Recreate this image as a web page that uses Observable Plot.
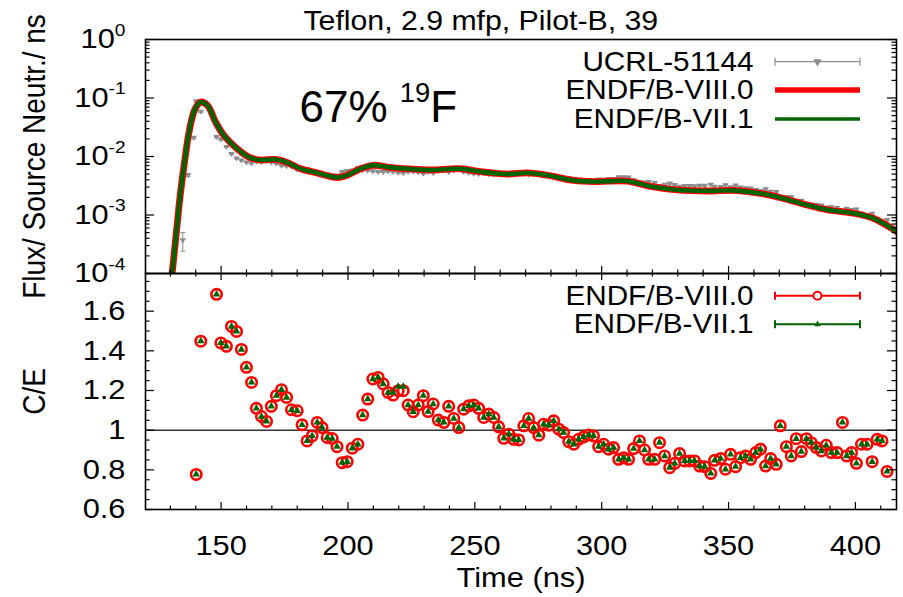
<!DOCTYPE html>
<html>
<head>
<meta charset="utf-8">
<script src="https://cdn.jsdelivr.net/npm/d3@7"></script>
<script src="https://cdn.jsdelivr.net/npm/@observablehq/plot@0.6"></script>
<style>
  body { margin: 0; background: #fff; }
  #chart { position: relative; width: 903px; height: 597px; background: #fff; }
  #chart svg { position: absolute; left: 0; }
</style>
</head>
<body>
<div id="chart"></div>
<script>
// ---- Calculated flux (ENDF/B-VIII.0 and ENDF/B-VII.1), flux per source neutron per ns
const calcTime = [129.5, 130.7, 132.7, 134.0, 135.7, 137.5, 139.6, 141.9, 144.7, 147.8,
  151.1, 156.3, 160.9, 165.5, 171.4, 176.0, 181.3, 187.9, 195.7, 199.7,
  204.9, 210.2, 215.4, 223.3, 232.5, 244.3, 252.2, 262.7, 270.6, 278.5,
  289.0, 298.2, 310.0, 319.2, 329.7, 342.8, 352.0, 363.8, 371.7, 380.9,
  388.8, 399.3, 407.2, 414.4, 416.8];
const calcVIII = [3.55e-5, 1.00e-4, 7.08e-4, 2.40e-3, 8.71e-3, 2.82e-2, 6.31e-2, 8.51e-2, 7.41e-2, 3.89e-2,
  2.29e-2, 1.36e-2, 9.77e-3, 8.71e-3, 8.91e-3, 7.94e-3, 6.17e-3, 5.25e-3, 4.37e-3, 4.79e-3,
  6.17e-3, 7.08e-3, 6.61e-3, 6.17e-3, 5.89e-3, 6.17e-3, 5.50e-3, 5.01e-3, 5.25e-3, 4.79e-3,
  3.89e-3, 3.72e-3, 3.80e-3, 3.09e-3, 2.69e-3, 2.57e-3, 2.63e-3, 2.29e-3, 1.91e-3, 1.48e-3,
  1.23e-3, 1.07e-3, 8.71e-4, 5.89e-4, 5.01e-4];
const calcVII = [3.55e-5, 1.00e-4, 7.08e-4, 2.40e-3, 8.71e-3, 2.82e-2, 6.31e-2, 8.51e-2, 7.41e-2, 3.89e-2,
  2.29e-2, 1.36e-2, 9.77e-3, 8.71e-3, 8.91e-3, 7.94e-3, 6.17e-3, 5.25e-3, 4.37e-3, 4.79e-3,
  6.17e-3, 7.08e-3, 6.61e-3, 6.17e-3, 5.89e-3, 6.17e-3, 5.50e-3, 5.01e-3, 5.25e-3, 4.79e-3,
  3.89e-3, 3.72e-3, 3.80e-3, 3.09e-3, 2.69e-3, 2.57e-3, 2.63e-3, 2.29e-3, 1.91e-3, 1.48e-3,
  1.23e-3, 1.07e-3, 8.71e-4, 5.89e-4, 5.01e-4];

// ---- Time bins of the C/E ratios (ns)
const ceTime = [140.2, 142.0, 148.2, 149.9, 152.1, 154.1, 156.1, 158.0, 160.0, 162.0,
  163.9, 165.9, 167.9, 169.8, 171.8, 173.8, 175.8, 177.7, 180.0, 181.9,
  183.9, 185.9, 187.9, 189.8, 191.8, 193.8, 195.7, 197.7, 199.7, 201.7,
  203.9, 205.8, 207.8, 209.8, 211.9, 213.9, 215.8, 217.8, 219.8, 221.8,
  223.7, 225.7, 227.7, 229.7, 231.6, 233.6, 235.6, 237.8, 239.7, 241.7,
  243.7, 245.6, 247.6, 249.6, 251.5, 253.5, 255.5, 257.5, 259.4, 261.4,
  263.4, 265.3, 267.3, 269.3, 271.2, 273.2, 275.2, 277.1, 279.1, 281.1,
  283.1, 285.0, 287.0, 289.0, 290.9, 292.9, 294.9, 296.8, 298.8, 300.8,
  302.7, 304.7, 306.7, 308.7, 310.6, 312.6, 314.9, 316.9, 318.5, 320.9,
  322.8, 324.8, 326.8, 328.8, 330.7, 332.7, 334.7, 336.6, 338.6, 340.6,
  343.0, 344.5, 346.9, 348.8, 350.8, 352.8, 354.7, 356.7, 358.7, 360.7,
  362.6, 364.6, 366.6, 368.8, 370.4, 372.8, 374.7, 376.7, 378.7, 380.7,
  382.6, 384.6, 386.6, 388.5, 390.5, 392.8, 394.9, 396.5, 398.5, 400.4,
  402.4, 404.6, 406.6, 408.6, 410.5, 412.5];

const ceVIII = [0.777, 1.449, 1.685, 1.440, 1.423, 1.523, 1.498, 1.407, 1.317, 1.241,
  1.110, 1.069, 1.044, 1.120, 1.174, 1.204, 1.165, 1.103, 1.098, 1.027,
  0.946, 0.971, 1.039, 1.013, 0.963, 0.958, 0.917, 0.836, 0.841, 0.909,
  0.929, 1.076, 1.157, 1.258, 1.266, 1.233, 1.190, 1.177, 1.199, 1.199,
  1.127, 1.093, 1.127, 1.174, 1.094, 1.132, 1.051, 1.039, 1.120, 1.059,
  1.013, 1.106, 1.123, 1.127, 1.110, 1.064, 1.081, 1.064, 1.017, 0.959,
  0.980, 0.954, 0.951, 1.022, 1.059, 1.013, 0.975, 1.030, 1.025, 1.047,
  1.005, 0.988, 0.942, 0.929, 0.954, 0.966, 0.976, 0.971, 0.917, 0.929,
  0.904, 0.912, 0.853, 0.861, 0.853, 0.907, 0.946, 0.900, 0.853, 0.853,
  0.937, 0.870, 0.811, 0.833, 0.882, 0.845, 0.845, 0.845, 0.819, 0.816,
  0.782, 0.848, 0.857, 0.803, 0.878, 0.816, 0.861, 0.870, 0.853, 0.887,
  0.904, 0.819, 0.857, 0.828, 1.022, 0.917, 0.870, 0.957, 0.892, 0.957,
  0.937, 0.912, 0.895, 0.924, 0.887, 0.887, 1.039, 0.870, 0.887, 0.833,
  0.929, 0.929, 0.841, 0.954, 0.946, 0.792];

const ceVII = [0.777, 1.449, 1.685, 1.440, 1.423, 1.523, 1.498, 1.407, 1.317, 1.241,
  1.110, 1.069, 1.044, 1.120, 1.174, 1.204, 1.165, 1.103, 1.098, 1.027,
  0.946, 0.971, 1.039, 1.013, 0.963, 0.958, 0.917, 0.836, 0.841, 0.909,
  0.929, 1.076, 1.157, 1.258, 1.266, 1.233, 1.190, 1.190, 1.220, 1.220,
  1.127, 1.093, 1.127, 1.174, 1.094, 1.132, 1.051, 1.039, 1.120, 1.059,
  1.013, 1.106, 1.123, 1.127, 1.110, 1.064, 1.081, 1.064, 1.017, 0.959,
  0.980, 0.954, 0.951, 1.022, 1.059, 1.013, 0.975, 1.030, 1.025, 1.047,
  1.005, 0.988, 0.942, 0.929, 0.954, 0.966, 0.976, 0.971, 0.917, 0.929,
  0.904, 0.912, 0.853, 0.861, 0.853, 0.907, 0.946, 0.900, 0.853, 0.853,
  0.937, 0.870, 0.811, 0.833, 0.882, 0.845, 0.845, 0.845, 0.819, 0.816,
  0.782, 0.848, 0.857, 0.803, 0.878, 0.816, 0.861, 0.870, 0.853, 0.887,
  0.904, 0.819, 0.857, 0.828, 1.022, 0.917, 0.870, 0.957, 0.892, 0.957,
  0.937, 0.912, 0.895, 0.924, 0.887, 0.887, 1.039, 0.870, 0.887, 0.833,
  0.929, 0.929, 0.841, 0.954, 0.946, 0.792];

// ---- Measured flux, UCRL-51144 (time, value, relative uncertainty)
const expTime = [134.9, 137.0, 139.2, ...ceTime];
const expFlux = [3.7e-4, 4.8e-3, 2.1e-2,
  0.0880, 0.0585, 0.0215, 0.0196, 0.0146, 0.0111, 0.00927, 0.00859, 0.00794, 0.00766,
  0.00817, 0.00815, 0.00841, 0.00791, 0.00752, 0.00697, 0.00686, 0.00675, 0.00601, 0.00592,
  0.00611, 0.00568, 0.00505, 0.00494, 0.00497, 0.00478, 0.00476, 0.00547, 0.00569, 0.00579,
  0.00634, 0.00586, 0.00575, 0.00558, 0.00547, 0.00547, 0.00555, 0.00548, 0.00530, 0.00521,
  0.00547, 0.00557, 0.00535, 0.00508, 0.00541, 0.00522, 0.00566, 0.00577, 0.00541, 0.00575,
  0.00607, 0.00547, 0.00525, 0.00507, 0.00500, 0.00510, 0.00493, 0.00493, 0.00508, 0.00528,
  0.00514, 0.00533, 0.00542, 0.00510, 0.00492, 0.00502, 0.00510, 0.00472, 0.00461, 0.00435,
  0.00435, 0.00426, 0.00430, 0.00419, 0.00404, 0.00395, 0.00387, 0.00385, 0.00405, 0.00402,
  0.00415, 0.00412, 0.00443, 0.00441, 0.00440, 0.00395, 0.00360, 0.00361, 0.00368, 0.00354,
  0.00314, 0.00330, 0.00345, 0.00327, 0.00304, 0.00315, 0.00313, 0.00310, 0.00318, 0.00317,
  0.00329, 0.00304, 0.00303, 0.00324, 0.00299, 0.00319, 0.00296, 0.00286, 0.00285, 0.00268,
  0.00257, 0.00275, 0.00250, 0.00247, 0.00192, 0.00201, 0.00201, 0.00173, 0.00176, 0.00155,
  0.00152, 0.00149, 0.00145, 0.00134, 0.00136, 0.00132, 0.00109, 0.00128, 0.00122, 0.00125,
  0.00106, 0.00100, 0.00105, 0.000845, 0.000766, 0.000822];
const expRelErr = [0.35, 0.06, 0.04,
  0.03, 0.03, 0.03, 0.03, 0.02, 0.02, 0.02, 0.02, 0.02, 0.02,
  0.02, 0.02, 0.02, 0.02, 0.02, 0.02, 0.02, 0.02, 0.02, 0.02,
  0.02, 0.02, 0.02, 0.02, 0.02, 0.02, 0.02, 0.02, 0.02, 0.02,
  0.02, 0.02, 0.02, 0.02, 0.02, 0.02, 0.02, 0.02, 0.02, 0.02,
  0.02, 0.02, 0.02, 0.02, 0.02, 0.02, 0.02, 0.02, 0.02, 0.02,
  0.02, 0.02, 0.02, 0.02, 0.02, 0.02, 0.02, 0.02, 0.02, 0.02,
  0.02, 0.02, 0.02, 0.02, 0.02, 0.02, 0.02, 0.02, 0.02, 0.02,
  0.02, 0.02, 0.02, 0.02, 0.02, 0.02, 0.02, 0.02, 0.02, 0.02,
  0.03, 0.03, 0.03, 0.03, 0.03, 0.03, 0.03, 0.03, 0.03, 0.03,
  0.03, 0.03, 0.03, 0.03, 0.03, 0.03, 0.03, 0.03, 0.03, 0.03,
  0.03, 0.03, 0.03, 0.03, 0.03, 0.03, 0.03, 0.03, 0.03, 0.03,
  0.04, 0.04, 0.04, 0.04, 0.04, 0.04, 0.04, 0.04, 0.04, 0.04,
  0.04, 0.04, 0.04, 0.04, 0.04, 0.04, 0.04, 0.04, 0.04, 0.04,
  0.04, 0.04, 0.04, 0.04, 0.04, 0.04];

// ---- Axis ticks and labels
const xTicks = [150, 200, 250, 300, 350, 400];
const fluxTicks = [1e-4, 1e-3, 1e-2, 1e-1, 1];
const ratioTicks = [0.6, 0.8, 1, 1.2, 1.4, 1.6];
const titleText = "Teflon, 2.9 mfp, Pilot-B, 39";
const noteText = "67% ^{19}F";
const fluxLabel = "Flux/ Source Neutr./ ns";
const ratioLabel = "C/E";
const timeLabel = "Time (ns)";
const fluxLegend = ["UCRL-51144", "ENDF/B-VIII.0", "ENDF/B-VII.1"];
const ratioLegend = ["ENDF/B-VIII.0", "ENDF/B-VII.1"];

// ---- Tables for the marks
const calc = calcTime.map((t, i) => ({t, viii: calcVIII[i], vii: calcVII[i]}));
const ce = ceTime.map((t, i) => ({t, viii: ceVIII[i], vii: ceVII[i]}));
const meas = expTime.map((t, i) => ({t, v: expFlux[i], e: expRelErr[i]}));

// ---- Layout
const FONT = '"Liberation Sans", Arial, Helvetica, sans-serif';
const W = 903, ML = 145, MR = 7;
const frameW = W - ML - MR;
const xDomain = [120.2, 416.2];
const topH = 273, topMT = 39, topFrameH = topH - topMT;
const botH = 324, botMB = 88, botFrameH = botH - botMB;
const RED = "#ff0000", GREEN = "#006400", GRAY = "#8c8c8c";
const TICK_FS = 28, LEG_FS = 27, TITLE_FS = 27.5, STRETCH = 1.1;

const xMinor = d3.range(130, 416, 10).filter(v => v % 50 !== 0);
const logMinor = [];
for (let e = -4; e < 0; e++) for (let k = 2; k <= 9; k++) logMinor.push(k * 10 ** e);
const ratioMinor = d3.range(0.65, 1.79, 0.05).map(v => +v.toFixed(2)).filter(v => Math.abs(v * 5 - Math.round(v * 5)) > 1e-6);

// Custom symbols
const triDown = {draw(ctx, size) {
  const r = Math.sqrt(size / Math.PI);
  ctx.moveTo(-1.25 * r, -0.75 * r); ctx.lineTo(1.25 * r, -0.75 * r); ctx.lineTo(0, 1.2 * r); ctx.closePath();
}};
const cap = {draw(ctx, size) {
  const r = Math.sqrt(size / Math.PI);
  ctx.moveTo(-r, 0); ctx.lineTo(r, 0);
}};

// Ticks drawn inward from the frame edges
function xEdgeTicks(values, len, frameH, edge) {
  return Plot.tickX(values, {x: d => d, stroke: "black", strokeWidth: 1.2,
    ...(edge === "bottom" ? {insetTop: frameH - len} : {insetBottom: frameH - len})});
}
function yEdgeTicks(values, len) {
  return [
    Plot.tickY(values, {y: d => d, stroke: "black", strokeWidth: 1.2, insetRight: frameW - len}),
    Plot.tickY(values, {y: d => d, stroke: "black", strokeWidth: 1.2, insetLeft: frameW - len})
  ];
}

// Legend swatches placed relative to the frame's top-right corner
function swatches(rows) {
  return (index, scales, values, dims) => {
    const g = d3.create("svg:g");
    const right = dims.width - dims.marginRight;
    const x1 = right - 121, x2 = right - 36, xm = (x1 + x2) / 2;
    for (const r of rows) {
      const y = dims.marginTop + r.dy;
      g.append("line").attr("x1", x1).attr("x2", x2).attr("y1", y).attr("y2", y)
        .attr("stroke", r.color).attr("stroke-width", r.width);
      if (r.caps) for (const x of [x1, x2]) {
        g.append("line").attr("x1", x).attr("x2", x).attr("y1", y - 4).attr("y2", y + 4)
          .attr("stroke", r.color).attr("stroke-width", r.width);
      }
      if (r.marker === "triDown") {
        g.append("path").attr("transform", `translate(${xm},${y}) rotate(180)`)
          .attr("d", d3.symbol(d3.symbolTriangle, 30)()).attr("fill", r.color);
      } else if (r.marker === "circle") {
        g.append("circle").attr("cx", xm).attr("cy", y).attr("r", 4)
          .attr("fill", "white").attr("stroke", r.color).attr("stroke-width", 2);
      } else if (r.marker === "tri") {
        g.append("path").attr("transform", `translate(${xm},${y})`)
          .attr("d", d3.symbol(d3.symbolTriangle, 18)()).attr("fill", r.color);
      }
    }
    return g.node();
  };
}

function legendText(labels, dys) {
  return labels.map((label, i) => Plot.text([label], {
    frameAnchor: "top-right", dx: -143, dy: dys[i], textAnchor: "end",
    lineAnchor: "middle", fontSize: LEG_FS, fill: "black"
  }));
}

// Turn "a^{b}c" into real superscript tspans
function superscripts(svg, scale, raise) {
  const ns = "http://www.w3.org/2000/svg";
  d3.select(svg).selectAll("text").each(function() {
    const s = this.textContent;
    const m = s.match(/^(.*?)\^\{([^}]*)\}(.*)$/);
    if (!m) return;
    while (this.firstChild) this.removeChild(this.firstChild);
    const a = document.createElementNS(ns, "tspan"); a.textContent = m[1]; this.appendChild(a);
    const b = document.createElementNS(ns, "tspan"); b.textContent = m[2];
    b.setAttribute("font-size", `${scale * 100}%`);
    b.setAttribute("dy", `${-raise / scale}em`);
    this.appendChild(b);
    if (m[3]) {
      const c = document.createElementNS(ns, "tspan"); c.textContent = m[3];
      c.setAttribute("dy", `${raise}em`);
      this.appendChild(c);
    }
  });
}

// Widen the lettering horizontally (about each label's anchor), as in the printed figure
function widenText(svg, sx, keep) {
  svg.querySelectorAll("text").forEach(t => {
    if (keep(t)) return;
    const bb = t.getBBox();
    const tr = t.getAttribute("transform") || "";
    let extra;
    if (/rotate/.test(tr)) {
      const ay = bb.y + bb.height / 2;
      extra = ` translate(0,${ay}) scale(1,${sx}) translate(0,${-ay})`;
    } else {
      const anchor = getComputedStyle(t).textAnchor;
      const ax = anchor === "end" ? bb.x + bb.width : anchor === "middle" ? bb.x + bb.width / 2 : bb.x;
      extra = ` translate(${ax},0) scale(${sx},1) translate(${-ax},0)`;
    }
    t.setAttribute("transform", tr + extra);
  });
}

const svgStyle = {fontFamily: FONT, background: "transparent", overflow: "visible", color: "black"};

// ---- Upper panel: flux
const fluxPlot = Plot.plot({
  width: W, height: topH,
  marginTop: topMT, marginBottom: 0, marginLeft: ML, marginRight: MR,
  style: svgStyle,
  x: {domain: xDomain, axis: null, label: null},
  y: {type: "log", domain: [1e-4, 1], axis: null, label: null},
  marks: [
    Plot.ruleX(meas, {x: "t", y1: d => d.v * (1 - d.e), y2: d => d.v * (1 + d.e), stroke: GRAY, strokeWidth: 1, clip: true}),
    Plot.dot(meas, {x: "t", y: d => d.v * (1 - d.e), symbol: cap, r: 2.5, stroke: GRAY, strokeWidth: 1, clip: true}),
    Plot.dot(meas, {x: "t", y: d => d.v * (1 + d.e), symbol: cap, r: 2.5, stroke: GRAY, strokeWidth: 1, clip: true}),
    Plot.dot(meas, {x: "t", y: "v", symbol: triDown, r: 2.6, fill: GRAY, stroke: null, clip: true}),
    Plot.line(calc, {x: "t", y: "viii", stroke: RED, strokeWidth: 6.8, curve: "catmull-rom", clip: true}),
    Plot.line(calc, {x: "t", y: "vii", stroke: GREEN, strokeWidth: 4.4, curve: "catmull-rom", clip: true}),
    ...yEdgeTicks(fluxTicks, 9),
    ...yEdgeTicks(logMinor, 4.5),
    xEdgeTicks(xTicks, 7, topFrameH, "bottom"),
    xEdgeTicks(xMinor, 3.5, topFrameH, "bottom"),
    Plot.frame({stroke: "black", strokeWidth: 1.6}),
    Plot.axisY(fluxTicks, {tickSize: 0, tickPadding: 20, fontSize: TICK_FS, label: null,
      tickFormat: d => `10^{${Math.round(Math.log10(d))}}`}),
    Plot.text([fluxLabel], {frameAnchor: "left", dx: -110, rotate: -90, fontSize: TICK_FS, lineAnchor: "middle", textAnchor: "middle"}),
    Plot.text([titleText], {frameAnchor: "top-left", dx: 158, dy: -10, lineAnchor: "bottom", textAnchor: "start", fontSize: TITLE_FS}),
    Plot.text([noteText], {frameAnchor: "top-left", dx: 154, dy: 82, lineAnchor: "bottom", textAnchor: "start", fontSize: 44}),
    ...legendText(fluxLegend, [22.7, 51, 80]),
    swatches([
      {dy: 22.7, color: GRAY, width: 1.2, caps: true, marker: "triDown"},
      {dy: 51, color: RED, width: 5.5},
      {dy: 80, color: GREEN, width: 3.5}
    ])
  ]
});
superscripts(fluxPlot, 0.62, 0.45);
fluxPlot.style.top = "0px";

// ---- Lower panel: C/E ratio
const ratioPlot = Plot.plot({
  width: W, height: botH,
  marginTop: 0, marginBottom: botMB, marginLeft: ML, marginRight: MR,
  style: svgStyle,
  x: {domain: xDomain, axis: null, label: null},
  y: {domain: [0.6, 1.79], axis: null, label: null},
  marks: [
    Plot.ruleY([1], {stroke: "#333", strokeWidth: 1.5}),
    Plot.dot(ce, {x: "t", y: "viii", r: 5.2, stroke: RED, strokeWidth: 2.6, fill: "none", clip: true}),
    Plot.dot(ce, {x: "t", y: "vii", symbol: "triangle", r: 2.8, fill: GREEN, stroke: null, clip: true}),
    ...yEdgeTicks(ratioTicks, 9),
    ...yEdgeTicks(ratioMinor, 4.5),
    xEdgeTicks(xTicks, 7, botFrameH, "bottom"),
    xEdgeTicks(xMinor, 3.5, botFrameH, "bottom"),
    xEdgeTicks(xTicks, 7, botFrameH, "top"),
    xEdgeTicks(xMinor, 3.5, botFrameH, "top"),
    Plot.frame({stroke: "black", strokeWidth: 1.6}),
    Plot.axisY(ratioTicks, {tickSize: 0, tickPadding: 20, fontSize: TICK_FS, label: null, tickFormat: d => `${d}`}),
    Plot.axisX(xTicks, {tickSize: 0, tickPadding: 26, fontSize: TICK_FS, label: null, tickFormat: d => `${d}`}),
    Plot.text([ratioLabel], {frameAnchor: "left", dx: -110, rotate: -90, fontSize: TICK_FS, lineAnchor: "middle", textAnchor: "middle"}),
    Plot.text([timeLabel], {frameAnchor: "bottom", dy: 69, lineAnchor: "middle", fontSize: TICK_FS}),
    ...legendText(ratioLegend, [22.7, 51.3]),
    swatches([
      {dy: 22.7, color: RED, width: 2, caps: true, marker: "circle"},
      {dy: 51.3, color: GREEN, width: 2, caps: true, marker: "tri"}
    ])
  ]
});
ratioPlot.style.top = `${topH}px`;

const chart = document.getElementById("chart");
chart.appendChild(fluxPlot);
chart.appendChild(ratioPlot);
const keepNote = t => t.textContent.includes("67%");
widenText(fluxPlot, STRETCH, keepNote);
widenText(ratioPlot, STRETCH, keepNote);
</script>
</body>
</html>
